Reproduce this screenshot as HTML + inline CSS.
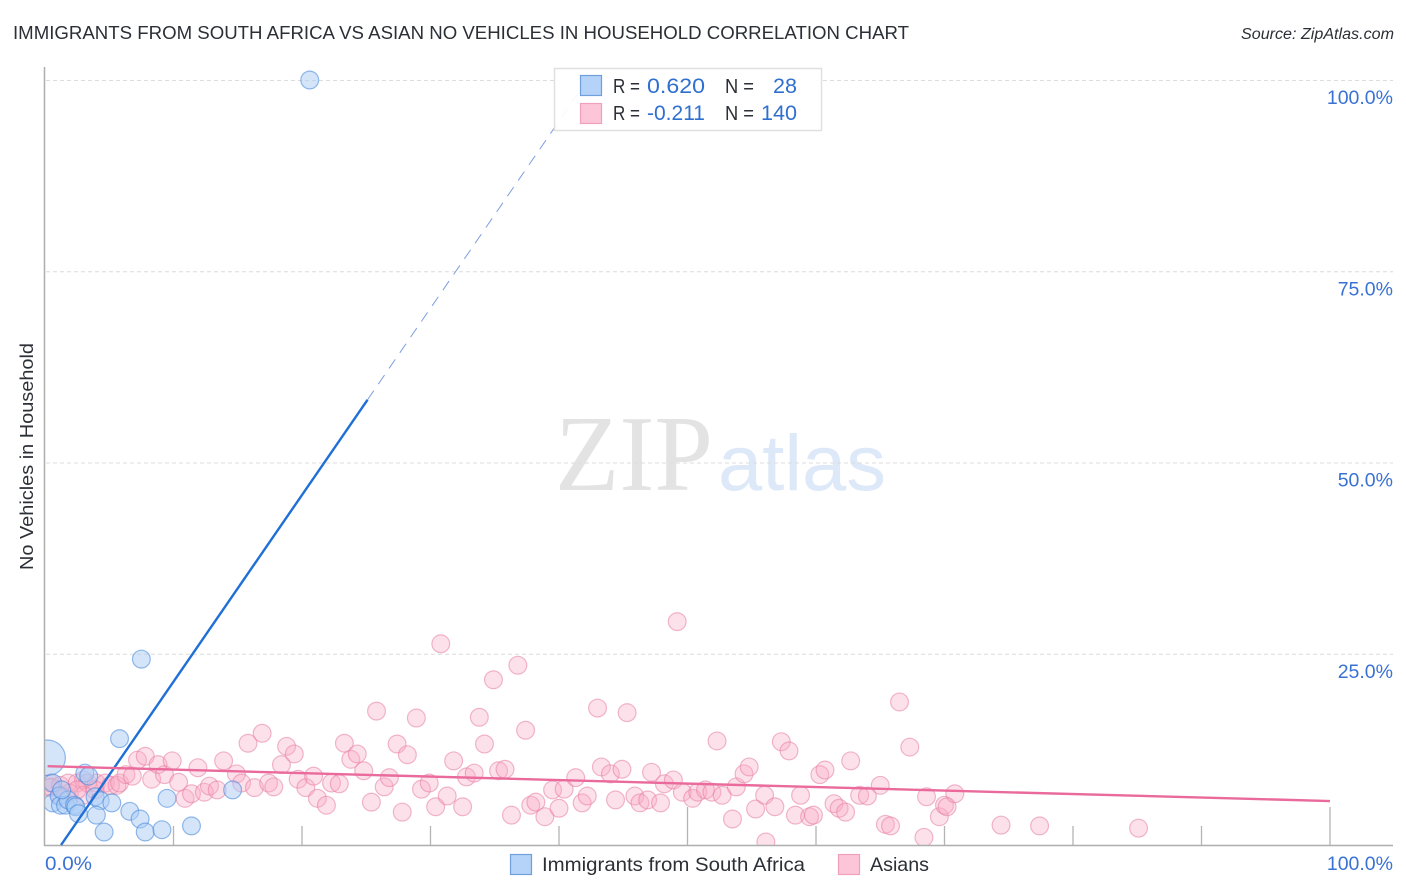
<!DOCTYPE html>
<html lang="en">
<head>
<meta charset="utf-8">
<title>Immigrants from South Africa vs Asian No Vehicles in Household Correlation Chart</title>
<style>
html,body{margin:0;padding:0;background:#fff;width:1406px;height:892px;overflow:hidden}
svg{display:block}
text{font-family:"Liberation Sans",sans-serif}
</style>
</head>
<body>
<svg id="chart" xmlns="http://www.w3.org/2000/svg" width="1406" height="892" viewBox="0 0 1406 892">
  <defs>
    <clipPath id="plot-clip"><rect x="45" y="60" width="1349" height="785"/></clipPath>
  </defs>
  <rect width="1406" height="892" fill="#fff"/>

  <text x="13" y="39" font-size="18.5" fill="#2b2f36" textLength="896" lengthAdjust="spacingAndGlyphs">IMMIGRANTS FROM SOUTH AFRICA VS ASIAN NO VEHICLES IN HOUSEHOLD CORRELATION CHART</text>
  <text x="1241" y="39" font-size="15.5" font-style="italic" fill="#2b2f36" textLength="153" lengthAdjust="spacingAndGlyphs">Source: ZipAtlas.com</text>

  <g>
    <text x="555" y="490" font-size="108" fill="#e3e3e3" textLength="158" lengthAdjust="spacingAndGlyphs" style="font-family:'Liberation Serif',serif">ZIP</text>
    <text x="718" y="490" font-size="79" fill="#dde8f8" textLength="168" lengthAdjust="spacingAndGlyphs">atlas</text>
  </g>

  <g id="grid"></g>
  <g id="marks" clip-path="url(#plot-clip)"></g>
  <rect x="0" y="60" width="44" height="800" fill="#fff"/>
  <rect x="0" y="846" width="1406" height="8" fill="#fff"/>
  <g id="axes"></g>
  <g id="trends"></g>
  <g id="tick-labels"></g>

  <text transform="translate(33 570) rotate(-90)" font-size="18.5" fill="#2b2f36" textLength="227" lengthAdjust="spacingAndGlyphs">No Vehicles in Household</text>

  <g>
    <rect x="554.5" y="68.5" width="267" height="62" fill="#fff" fill-opacity="0.92" stroke="#e0e0e0" stroke-width="1.5"/>
    <rect x="580.5" y="75.5" width="21" height="20" fill="#b5d2f8" stroke="#6fa0dc" stroke-width="1.2"/>
    <rect x="580.5" y="103.5" width="21" height="20" fill="#fcc6d8" stroke="#f0a0bc" stroke-width="1.2"/>
    <text x="613" y="93" font-size="20" fill="#2b2f36" textLength="27" lengthAdjust="spacingAndGlyphs">R =</text>
    <text x="647" y="93" font-size="21.5" fill="#2f6fd0" textLength="58" lengthAdjust="spacingAndGlyphs">0.620</text>
    <text x="725" y="93" font-size="20" fill="#2b2f36" textLength="29" lengthAdjust="spacingAndGlyphs">N =</text>
    <text x="773" y="93" font-size="21.5" fill="#2f6fd0" textLength="24" lengthAdjust="spacingAndGlyphs">28</text>
    <text x="613" y="120" font-size="20" fill="#2b2f36" textLength="27" lengthAdjust="spacingAndGlyphs">R =</text>
    <text x="647" y="120" font-size="21.5" fill="#2f6fd0" textLength="58" lengthAdjust="spacingAndGlyphs">-0.211</text>
    <text x="725" y="120" font-size="20" fill="#2b2f36" textLength="29" lengthAdjust="spacingAndGlyphs">N =</text>
    <text x="761" y="120" font-size="21.5" fill="#2f6fd0" textLength="36" lengthAdjust="spacingAndGlyphs">140</text>
  </g>

  <g>
    <g>
      <rect x="510.5" y="854.5" width="21" height="20" fill="#b5d2f8" stroke="#6fa0dc" stroke-width="1.2"/>
      <text x="542" y="871" font-size="19.5" fill="#2b2f36" textLength="263" lengthAdjust="spacingAndGlyphs">Immigrants from South Africa</text>
    </g>
    <g>
      <rect x="838.5" y="854.5" width="21" height="20" fill="#fcc6d8" stroke="#f0a0bc" stroke-width="1.2"/>
      <text x="870" y="871" font-size="19.5" fill="#2b2f36" textLength="59" lengthAdjust="spacingAndGlyphs">Asians</text>
    </g>
  </g>
</svg>

<script>
const xTicks = [10, 20, 30, 40, 50, 60, 70, 80, 90, 100];
const yTicks = [25, 50, 75, 100];
const yTickLabels = ["25.0%", "50.0%", "75.0%", "100.0%"];
const xEndLabels = ["0.0%", "100.0%"];

const blueX = [20.6, 7.5, 5.8, 0.2, 3.1, 3.4, 0.6, 0.6, 1.1, 1.2, 1.6, 1.8, 1.3, 2.3, 2.4, 2.6, 3.9, 4.3, 5.2, 4.0, 4.6, 6.6, 7.4, 7.8, 9.1, 9.5, 11.4, 14.6];
const blueY = [100, 24.3, 13.9, 11.4, 9.4, 9.0, 8.1, 5.5, 6.4, 5.2, 5.2, 5.9, 7.2, 5.2, 5.0, 4.1, 6.3, 5.8, 5.5, 3.9, 1.7, 4.4, 3.4, 1.7, 2.0, 6.1, 2.5, 7.2];
const blueSizes = [1, 1, 1, 4, 1, 1, 1, 1, 1, 1, 1, 1, 1, 1, 1, 1, 1, 1, 1, 1, 1, 1, 1, 1, 1, 1, 1, 1];

const pinkX = [0.4, 0.5, 0.4, 1.2, 1.8, 2.5, 3.0, 3.3, 4.0, 4.7, 5.1, 5.6, 5.8, 1.9, 1.2, 3.0, 3.9, 2.5, 6.3, 6.8, 7.2, 7.8, 8.3, 8.8, 9.3, 9.9, 10.4, 10.9, 11.4, 11.9, 12.4, 12.8, 13.4, 13.9, 14.9, 15.3, 15.8, 16.3, 16.9, 17.4, 17.8, 18.4, 18.8, 19.4, 19.7, 20.3, 20.9, 21.2, 21.9, 22.3, 22.9, 23.3, 23.8, 24.3, 24.8, 25.4, 25.8, 26.4, 26.8, 27.4, 27.8, 28.2, 28.9, 29.3, 29.9, 30.4, 30.8, 31.3, 31.8, 32.5, 32.8, 33.4, 33.8, 34.2, 34.9, 35.3, 35.8, 36.3, 36.8, 37.4, 37.8, 38.2, 38.9, 39.5, 40.0, 40.4, 41.3, 41.8, 42.2, 43.0, 43.3, 44.0, 44.4, 44.9, 45.3, 45.9, 46.3, 46.9, 47.2, 47.9, 48.2, 48.9, 49.2, 49.6, 50.4, 50.8, 51.4, 51.9, 52.3, 52.7, 53.5, 53.8, 54.4, 54.8, 55.3, 56.0, 56.1, 56.8, 57.3, 57.9, 58.4, 58.8, 59.5, 59.8, 60.3, 60.7, 61.4, 61.8, 62.3, 62.7, 63.4, 64.0, 65.0, 65.4, 65.8, 66.5, 67.3, 68.4, 68.6, 69.6, 70.0, 70.2, 70.8, 74.4, 77.4, 85.1];
const pinkY = [8.1, 7.6, 7.5, 7.8, 8.1, 8.1, 8.5, 8.1, 8.1, 8.1, 7.8, 7.8, 8.1, 6.8, 6.5, 6.5, 7.2, 7.2, 9.2, 9.0, 11.1, 11.6, 8.6, 10.5, 9.2, 11.0, 8.2, 6.1, 6.7, 10.1, 6.9, 7.7, 7.2, 11.0, 9.3, 8.1, 13.3, 7.5, 14.6, 8.1, 7.6, 10.5, 12.9, 11.9, 8.6, 7.5, 9.0, 6.1, 5.2, 8.1, 8.0, 13.3, 11.2, 11.9, 9.7, 5.6, 17.5, 7.6, 8.8, 13.2, 4.3, 11.8, 16.6, 7.3, 8.1, 5.0, 26.3, 6.4, 11.0, 5.0, 8.9, 9.4, 16.7, 13.2, 21.6, 9.7, 9.9, 3.9, 23.5, 15.0, 5.2, 5.6, 3.7, 7.2, 4.8, 7.3, 8.8, 5.5, 6.4, 17.9, 10.2, 9.3, 5.9, 9.9, 17.3, 6.4, 5.5, 5.9, 9.5, 5.5, 8.0, 8.5, 29.2, 6.9, 6.1, 6.9, 7.2, 6.9, 13.6, 6.5, 3.4, 7.6, 9.3, 10.2, 4.7, 6.5, 0.4, 5.0, 13.5, 12.3, 3.9, 6.5, 3.7, 3.9, 9.2, 9.8, 5.4, 4.8, 4.3, 11.0, 6.5, 6.4, 7.8, 2.7, 2.5, 18.7, 12.8, 1.0, 6.3, 3.7, 5.2, 5.0, 6.7, 2.6, 2.5, 2.2];

const blueTrendX = [1.25, 25.1];
const blueTrendY = [0, 58.2];
const blueDashX = [25.1, 42.2];
const blueDashY = [58.2, 100];
const pinkTrendX = [0.2, 100];
const pinkTrendY = [10.3, 5.75];

const SVG_NS = "http://www.w3.org/2000/svg";
function xScale(v) { return 45 + v * 12.85; }
function yScale(v) { return 845 - v * 7.65; }
function rScale(s) { return 8.9 * s / (s > 1 ? 2 : 1); }
function make(tag, attrs, parent) {
  const el = document.createElementNS(SVG_NS, tag);
  for (const k in attrs) el.setAttribute(k, attrs[k]);
  parent.appendChild(el);
  return el;
}

const grid = document.getElementById("grid");
const axes = document.getElementById("axes");
const marks = document.getElementById("marks");
const trends = document.getElementById("trends");
const tickLabels = document.getElementById("tick-labels");

yTicks.forEach(function (t, i) {
  const g = make("line", { x1: 46, x2: 1393, y1: yScale(t) + 0.5, y2: yScale(t) + 0.5, stroke: "#dcdcdc", "stroke-width": 1, "stroke-dasharray": "4 3" }, grid);
  
  
  const lab = make("text", { x: 1393, y: yScale(t) + 24, "text-anchor": "end", "font-size": 19.5, fill: "#3a72d4" }, tickLabels);
  
  
  lab.textContent = yTickLabels[i];
});

const yAxis = make("line", { x1: 44.5, x2: 44.5, y1: 67, y2: 846, stroke: "#aeaeae", "stroke-width": 1.5 }, axes);


const xAxis = make("line", { x1: 44, x2: 1393, y1: 845.5, y2: 845.5, stroke: "#aeaeae", "stroke-width": 1.5 }, axes);



xTicks.forEach(function (t) {
  const major = t % 50 === 0;
  const tick = make("line", { x1: xScale(t), x2: xScale(t), y1: major ? 807 : 826, y2: 845, stroke: "#b4b4b4", "stroke-width": 1.3 }, axes);
  
  
});

const xLabelLeft = make("text", { x: 45, y: 870, "font-size": 19.5, fill: "#3a72d4", textLength: 47, lengthAdjust: "spacingAndGlyphs" }, tickLabels);


xLabelLeft.textContent = xEndLabels[0];
const xLabelRight = make("text", { x: 1393, y: 870, "text-anchor": "end", "font-size": 19.5, fill: "#3a72d4" }, tickLabels);


xLabelRight.textContent = xEndLabels[1];

pinkX.forEach(function (v, i) {
  const c = make("circle", { cx: xScale(v), cy: yScale(pinkY[i]), r: 8.9, fill: "#f9a8c4", "fill-opacity": 0.35, stroke: "#e67ea4", "stroke-opacity": 0.55, "stroke-width": 1.2 }, marks);
  
  
});

blueX.forEach(function (v, i) {
  const c = make("circle", { cx: xScale(v), cy: yScale(blueY[i]), r: rScale(blueSizes[i]), fill: "#a9cbf5", "fill-opacity": 0.5, stroke: "#3f83d8", "stroke-opacity": 0.55, "stroke-width": 1.2 }, marks);
  
  
});

const blueDash = make("line", { x1: xScale(blueDashX[0]), y1: yScale(blueDashY[0]), x2: xScale(blueDashX[1]), y2: yScale(blueDashY[1]), stroke: "#7d9ee0", "stroke-width": 1, "stroke-dasharray": "11 8" }, trends);



const blueLine = make("line", { x1: xScale(blueTrendX[0]), y1: yScale(blueTrendY[0]), x2: xScale(blueTrendX[1]), y2: yScale(blueTrendY[1]), stroke: "#1f6fd6", "stroke-width": 2.4 }, trends);



const pinkLine = make("line", { x1: xScale(pinkTrendX[0]), y1: yScale(pinkTrendY[0]), x2: xScale(pinkTrendX[1]), y2: yScale(pinkTrendY[1]), stroke: "#e96a9b", "stroke-width": 2.4 }, trends);


</script>
</body>
</html>
